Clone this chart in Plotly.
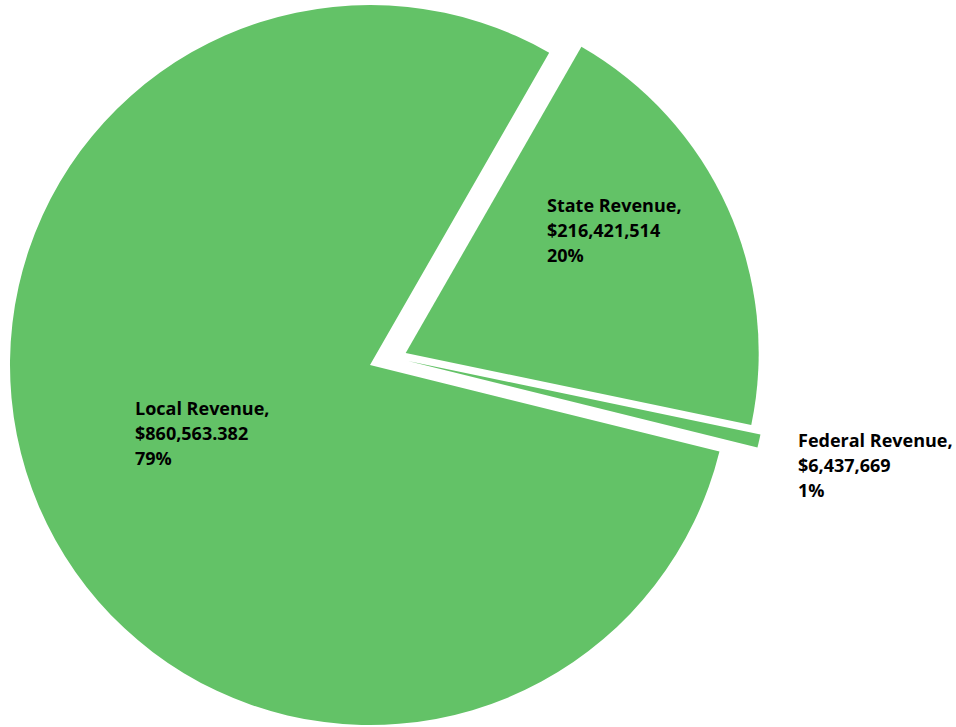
import plotly.graph_objects as go

# ---- data ----
categories = ["State Revenue", "Federal Revenue", "Local Revenue"]
values = [216421514, 6437669, 860563382]
value_text = ["$216,421,514", "$6,437,669", "$860,563.382"]

total = sum(values)
pct_text = [f"{round(v / total * 100)}%" for v in values]

# ---- style ----
W, H = 956, 727
GREEN = "rgb(99,194,103)"
CLEAR = "rgba(0,0,0,0)"
FONT = "Open Sans"
FSIZE = 18
ROTATION = 29.85
LINE_GAP = 25

# pixel center / radius for each exploded piece (state, federal, local)
pieces = [
    dict(cx=405.7, cy=353.0, r=353.0),
    dict(cx=408.0, cy=361.0, r=360.0),
    dict(cx=370.0, cy=365.0, r=360.0),
]
# label positions: left x, first baseline y (pixels)
label_pos = [(545, 211.7), (795.5, 446.7), (132.5, 415)]


def domain(p):
    x0 = (p["cx"] - p["r"]) / W
    x1 = (p["cx"] + p["r"]) / W
    y0 = 1 - (p["cy"] + p["r"]) / H
    y1 = 1 - (p["cy"] - p["r"]) / H
    return dict(x=[max(0, x0), min(1, x1)], y=[max(0, y0), min(1, y1)])


fig = go.Figure()
for i, p in enumerate(pieces):
    colors = [GREEN if j == i else CLEAR for j in range(len(values))]
    fig.add_trace(go.Pie(
        labels=categories,
        values=values,
        sort=False,
        direction="clockwise",
        rotation=ROTATION,
        marker=dict(colors=colors, line=dict(width=0)),
        textinfo="none",
        hoverinfo="skip",
        showlegend=False,
        domain=domain(p),
    ))

for i, cat in enumerate(categories):
    x, base = label_pos[i]
    lines = [f"{cat},", value_text[i], pct_text[i]]
    for k, line in enumerate(lines):
        yc = base + k * LINE_GAP - 0.388 * FSIZE
        fig.add_annotation(
            x=x / W, y=1 - yc / H, xref="paper", yref="paper",
            xanchor="left", yanchor="middle", align="left", showarrow=False,
            text=f"<b>{line}</b>",
            font=dict(family=FONT, size=FSIZE, color="black"),
        )

fig.update_layout(
    width=W, height=H,
    margin=dict(l=0, r=0, t=0, b=0),
    paper_bgcolor="white", plot_bgcolor="white",
)

fig.write_html("out.html")
